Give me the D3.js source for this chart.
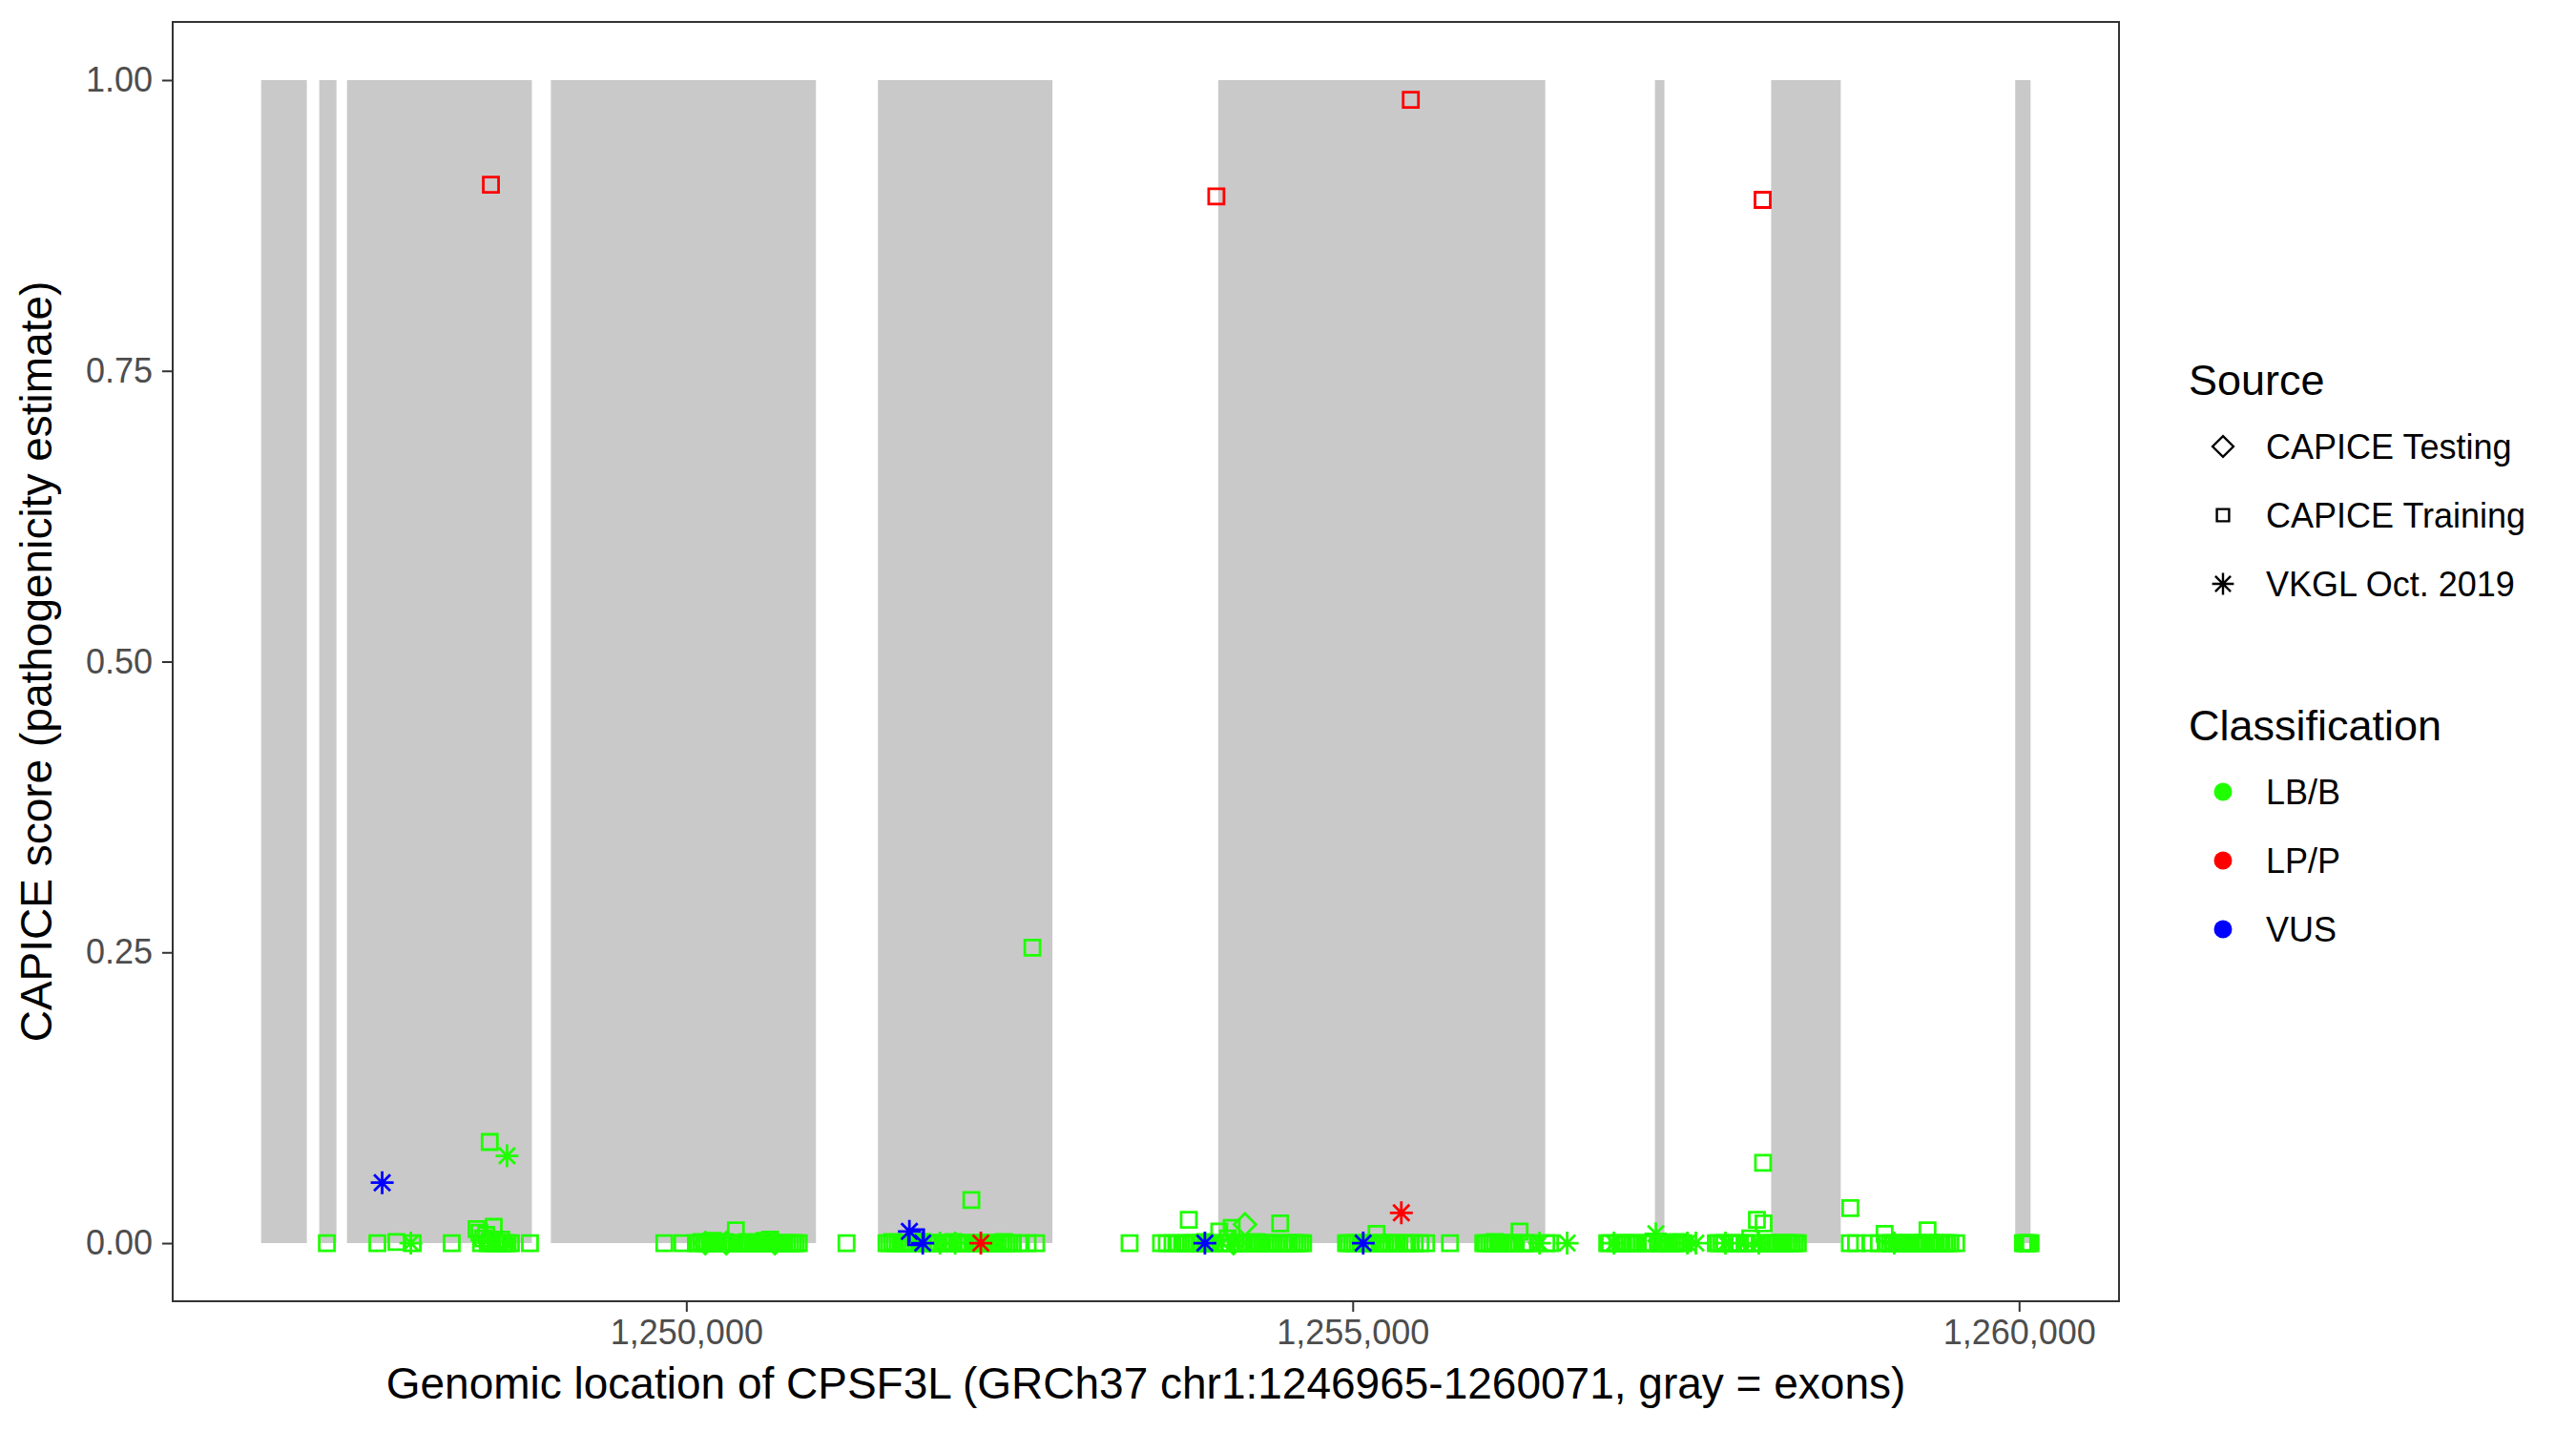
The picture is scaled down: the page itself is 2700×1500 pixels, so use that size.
<!DOCTYPE html>
<html>
<meta charset="utf-8">
<head>
	<title>CPSF3L CAPICE scores</title>
	<script src="https://cdn.jsdelivr.net/npm/d3@7/dist/d3.min.js" charset="utf-8"></script>
	<style>
		body { margin: 0; background: #fff; }
		text { font-family: "Liberation Sans", Arial, sans-serif; }
	</style>
</head>
<body>
	<script type="text/javascript">
	// exons of CPSF3L (start, end)
	var exonStart = [1246810, 1247246, 1247454, 1248984, 1251438, 1253991, 1257268, 1258140, 1259971];
	var exonEnd   = [1247153, 1247375, 1248841, 1250973, 1252747, 1256445, 1257339, 1258662, 1260086];

	// variants: [position, CAPICE score]
	var trainingLBB = [
		[1247303,0],[1247682,0],[1247825,0.001],[1247947,0],[1248240,0],
		[1248426,0.012],[1248448,0.009],[1248476,0.004],[1248498,0.007],[1248525,0.087],[1248526,0.002],
		[1248555,0.014],[1248584,0],[1248612,0.003],[1248641,0],[1248684,0],[1248827,0],
		[1249835,0],[1249971,0],[1250072,0],[1250114,0.001],[1250157,0],[1250200,0.002],[1250243,0],
		[1250286,0.001],[1250329,0],[1250372,0.011],[1250415,0],[1250458,0.001],[1250501,0],[1250544,0],
		[1250587,0.002],[1250629,0.003],[1250672,0],[1250715,0],[1250758,0],[1250801,0],[1250844,0],
		[1251202,0],[1251502,0],[1251545,0.001],[1251588,0],[1251631,0],[1251674,0],[1251774,0.001],
		[1251824,0],[1251867,0],[1251953,0],[1252003,0.001],[1252053,0],[1252096,0],[1252139,0.037],
		[1252182,0],[1252253,0],[1252296,0],[1252339,0],[1252382,0.001],[1252425,0],[1252496,0],
		[1252561,0],[1252597,0.254],[1252625,0],
		[1253326,0],[1253562,0],[1253605,0],[1253648,0],[1253691,0],[1253734,0],[1253770,0.02],
		[1253805,0],[1253848,0],[1253891,0.001],[1253934,0],[1253999,0.01],[1254020,0],[1254063,0.004],
		[1254092,0.013],[1254149,0],[1254235,0],[1254277,0.001],[1254320,0],[1254363,0],[1254406,0],
		[1254456,0.017],[1254499,0],[1254542,0],[1254585,0],[1254628,0],
		[1254950,0],[1254993,0],[1255036,0],[1255122,0],[1255179,0.008],[1255222,0],[1255265,0],
		[1255308,0],[1255408,0],[1255465,0],[1255508,0],[1255551,0],[1255730,0],
		[1255980,0],[1256023,0],[1256066,0.001],[1256109,0],[1256152,0],[1256194,0],[1256252,0.01],
		[1256295,0],[1256338,0],[1256452,0],[1256481,0],
		[1256910,0],[1257010,0],[1257053,0],[1257096,0],[1257139,0],[1257203,0],[1257246,0],
		[1257310,0],[1257353,0],[1257396,0],[1257439,0.001],[1257482,0],
		[1257725,0],[1257768,0],[1257833,0],[1257882,0],[1257940,0],[1257983,0.004],[1258033,0.02],
		[1258079,0.069],[1258083,0.017],[1258126,0],[1258169,0],[1258212,0],[1258255,0],[1258297,0],[1258340,0],
		[1258730,0],[1258734,0.03],[1258777,0],[1258884,0],[1258948,0],[1258991,0.008],[1259034,0],
		[1259106,0],[1259149,0],[1259192,0],[1259234,0],[1259277,0],[1259313,0.011],[1259356,0],
		[1259399,0],[1259442,0],[1259485,0],[1259528,0],
		[1260029,0],[1260050,0],[1260072,0],[1260086,0]
	];
	// more benign training variants at score 0 that fill the solid clusters
	var trainingLBBzero = [
		1248460, 1248510, 1248540, 1248570, 1248598, 1248626, 1248660,
		1250093, 1250136, 1250178, 1250221, 1250265, 1250308, 1250350, 1250394, 1250437, 1250480,
		1250522, 1250565, 1250608, 1250650, 1250694, 1250736, 1250780, 1250822,
		1251523, 1251566, 1251610, 1251652, 1251700, 1251750, 1251800, 1251845, 1251890, 1251930,
		1251975, 1252030, 1252075, 1252118, 1252160, 1252205, 1252230, 1252275, 1252318, 1252360, 1252404, 1252450,
		1253750, 1253787, 1253826, 1253870, 1253912, 1253956, 1254040, 1254080, 1254120, 1254170,
		1254210, 1254256, 1254300, 1254342, 1254385, 1254430, 1254478, 1254520, 1254563, 1254606,
		1254970, 1255015, 1255058, 1255100, 1255150, 1255200, 1255243, 1255286, 1255330, 1255386, 1255430,
		1256000, 1256045, 1256088, 1256130, 1256173, 1256215, 1256275, 1256318,
		1256930, 1256985, 1257030, 1257075, 1257118, 1257225, 1257290, 1257330, 1257375, 1257418, 1257460,
		1257745, 1257790, 1257855, 1257905, 1257960, 1258005, 1258060, 1258105, 1258148, 1258190,
		1258233, 1258276, 1258318,
		1259012, 1259056, 1259085, 1259128, 1259170, 1259213, 1259256, 1259295, 1259335, 1259378,
		1259420, 1259463, 1260040, 1260061
	];
	var trainingLPP = [[1248534,0.91],[1253977,0.90],[1255436,0.983],[1258076,0.897]];
	var trainingVUS = [[1251724,0.005]];
	var testingLBB = [[1250143,0],[1250300,0],[1250665,0],[1254106,0],[1254192,0.016]];
	var vkglLBB = [[1247933,0],[1248655,0.075],[1251903,0],[1252017,0],[1256402,0],[1256609,0],
		[1256960,0],[1257275,0.008],[1257511,0],[1257575,0],[1257797,0],[1258047,0],[1259063,0]];
	var vkglLPP = [[1252210,0],[1255365,0.026]];
	var vkglVUS = [[1247718,0.052],[1251674,0.01],[1251774,0],[1253891,0],[1255079,0]];

	var sources = ['CAPICE Testing', 'CAPICE Training', 'VKGL Oct. 2019'];
	var classes = ['LB/B', 'LP/P', 'VUS'];
	var classColors = ['#1fff00', '#ff0000', '#0000ff'];
	var yTicks = [0, 0.25, 0.5, 0.75, 1];
	var xTicks = [1250000, 1255000, 1260000];

	// layers, drawn green first so red / blue end up on top
	var layers = [
		{pts: trainingLBBzero.map(function(p) { return [p, 0]; }), src: 'CAPICE Training', cls: 'LB/B'},
		{pts: trainingLBB, src: 'CAPICE Training', cls: 'LB/B'},
		{pts: testingLBB, src: 'CAPICE Testing', cls: 'LB/B'},
		{pts: vkglLBB, src: 'VKGL Oct. 2019', cls: 'LB/B'},
		{pts: trainingLPP, src: 'CAPICE Training', cls: 'LP/P'},
		{pts: vkglLPP, src: 'VKGL Oct. 2019', cls: 'LP/P'},
		{pts: trainingVUS, src: 'CAPICE Training', cls: 'VUS'},
		{pts: vkglVUS, src: 'VKGL Oct. 2019', cls: 'VUS'}
	];
	var points = [];
	layers.forEach(function(l) {
		l.pts.forEach(function(p) { points.push({pos: p[0], score: p[1], src: l.src, cls: l.cls}); });
	});

	var W = 2700, H = 1500;
	var margin = {top: 23, right: 479, bottom: 136, left: 181};
	var width = W - margin.left - margin.right,
	    height = H - margin.top - margin.bottom;

	var svg = d3.select('body').append('svg')
		.attr('width', W).attr('height', H);
	var g = svg.append('g').attr('transform', 'translate(' + margin.left + ',' + margin.top + ')');

	var xmin = d3.min(exonStart.concat(points.map(function(d) { return d.pos; }))),
	    xmax = d3.max(exonEnd.concat(points.map(function(d) { return d.pos; })));
	var pad = (xmax - xmin) * 0.05;
	var x = d3.scaleLinear().domain([xmin - pad, xmax + pad]).range([0, width]);
	var y = d3.scaleLinear().domain([-0.05, 1.05]).range([height, 0]);
	var color = d3.scaleOrdinal().domain(classes).range(classColors);

	// exons
	g.selectAll('rect.exon').data(d3.range(exonStart.length)).enter().append('rect')
		.attr('class', 'exon')
		.attr('x', function(i) { return x(exonStart[i]); })
		.attr('width', function(i) { return x(exonEnd[i]) - x(exonStart[i]); })
		.attr('y', y(1))
		.attr('height', y(0) - y(1))
		.attr('fill', '#c9c9c9');

	// marker paths, centred on 0,0
	function shapePath(src, s) {
		if (src === 'CAPICE Training') {
			var h = 8 * s;
			return 'M' + (-h) + ',' + (-h) + 'H' + h + 'V' + h + 'H' + (-h) + 'Z';
		}
		if (src === 'CAPICE Testing') {
			var r = 11.5 * s;
			return 'M0,' + (-r) + 'L' + r + ',0L0,' + r + 'L' + (-r) + ',0Z';
		}
		var a = 12 * s, b = 8.5 * s;
		return 'M0,' + (-a) + 'V' + a + 'M' + (-a) + ',0H' + a +
			'M' + (-b) + ',' + (-b) + 'L' + b + ',' + b + 'M' + (-b) + ',' + b + 'L' + b + ',' + (-b);
	}

	g.selectAll('path.pt').data(points).enter().append('path')
		.attr('class', 'pt')
		.attr('transform', function(d) { return 'translate(' + x(d.pos) + ',' + y(d.score) + ')'; })
		.attr('d', function(d) { return shapePath(d.src, 1); })
		.attr('fill', 'none')
		.attr('stroke', function(d) { return color(d.cls); })
		.attr('stroke-width', 2.8);

	// panel border
	g.append('rect').attr('width', width).attr('height', height)
		.attr('fill', 'none').attr('stroke', '#333333').attr('stroke-width', 2);

	// axes
	var xAxis = g.append('g').attr('transform', 'translate(0,' + height + ')')
		.call(d3.axisBottom(x).tickValues(xTicks).tickFormat(d3.format(',')).tickSize(11).tickPadding(8));
	var yAxis = g.append('g')
		.call(d3.axisLeft(y).tickValues(yTicks).tickFormat(d3.format('.2f')).tickSize(11).tickPadding(10));
	[xAxis, yAxis].forEach(function(a) {
		a.select('.domain').remove();
		a.selectAll('line').attr('stroke', '#333333').attr('stroke-width', 2);
		a.selectAll('text').attr('fill', '#4d4d4d').style('font-size', '36px')
			.style('font-family', '"Liberation Sans", Arial, sans-serif');
	});

	svg.append('text')
		.attr('x', margin.left + width / 2).attr('y', 1466)
		.attr('text-anchor', 'middle').style('font-size', '46px')
		.text('Genomic location of CPSF3L (GRCh37 chr1:1246965-1260071, gray = exons)');
	svg.append('text')
		.attr('transform', 'translate(54,' + (margin.top + height / 2) + ') rotate(-90)')
		.attr('text-anchor', 'middle').style('font-size', '46px')
		.text('CAPICE score (pathogenicity estimate)');

	// legends
	var lg = svg.append('g');
	var lx = 2294;
	lg.append('text').attr('x', lx).attr('y', 414).style('font-size', '45px').text('Source');
	sources.forEach(function(s, i) {
		var cy = 468 + i * 72;
		lg.append('path')
			.attr('transform', 'translate(' + (lx + 36) + ',' + cy + ')')
			.attr('d', shapePath(s, s === 'CAPICE Training' ? 0.8 : 0.95))
			.attr('fill', 'none').attr('stroke', '#000').attr('stroke-width', 2.4);
		lg.append('text').attr('x', lx + 81).attr('y', cy + 13).style('font-size', '36px').text(s);
	});
	lg.append('text').attr('x', lx).attr('y', 776).style('font-size', '45px').text('Classification');
	classes.forEach(function(c, i) {
		var cy = 830 + i * 72;
		lg.append('circle').attr('cx', lx + 36).attr('cy', cy).attr('r', 9.5).attr('fill', color(c));
		lg.append('text').attr('x', lx + 81).attr('y', cy + 13).style('font-size', '36px').text(c);
	});
	</script>
</body>
</html>
